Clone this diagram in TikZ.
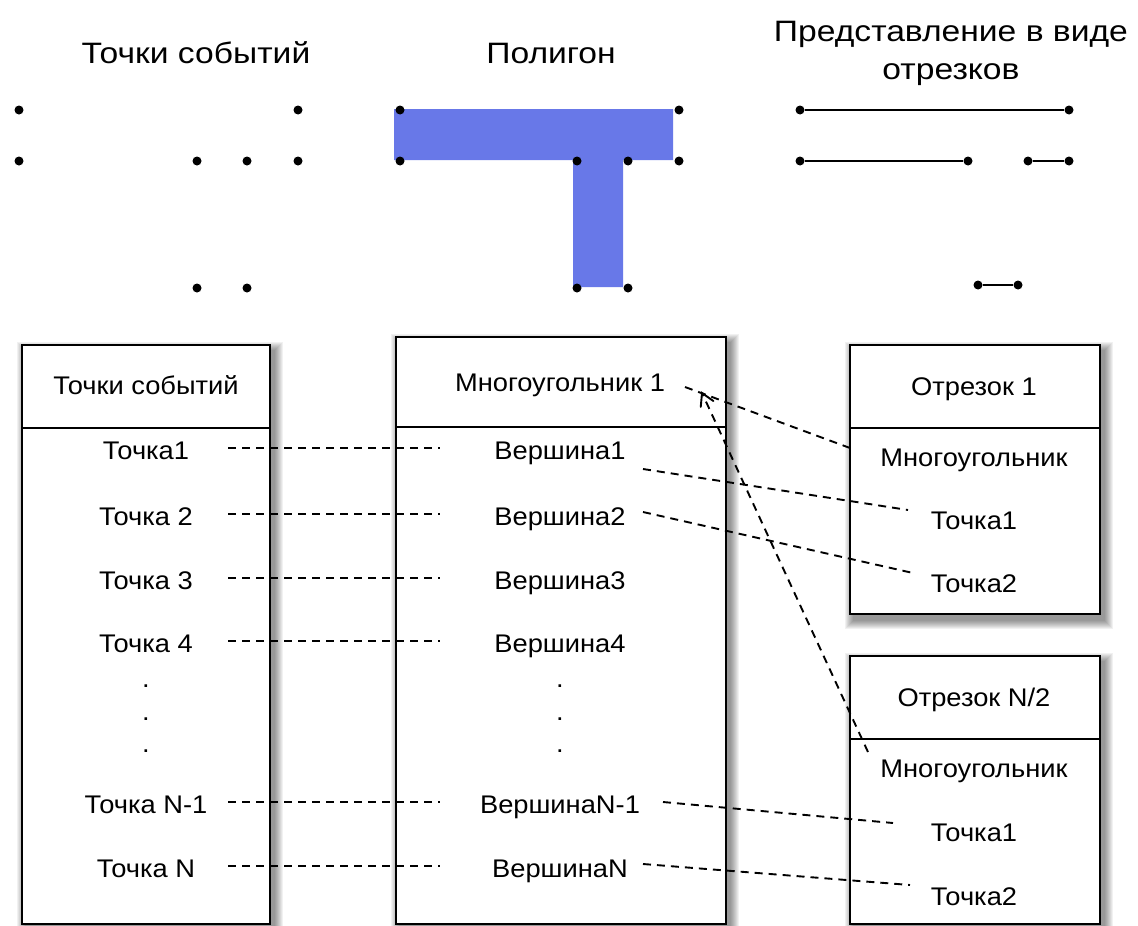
\documentclass[tikz,border=0pt]{standalone}
\usepackage{fontspec}
\setmainfont{Liberation Sans}
\newfontfamily\boxfont[FakeStretch=1.07]{Liberation Sans}
\newfontfamily\titlefont[FakeStretch=1.14]{Liberation Sans}
\usetikzlibrary{arrows.meta,calc}
\definecolor{polyblue}{RGB}{104,120,232}
\tikzset{
  box/.style={draw, line width=1.9pt, fill=white, inner sep=0pt},
  txt/.style={font=\boxfont\fontsize{25.5}{30}\selectfont, inner sep=0pt, anchor=base},
  ttl/.style={font=\titlefont\fontsize{29.5}{40}\selectfont, inner sep=0pt, align=center, anchor=base},
  conn/.style={dash pattern=on 8pt off 6pt, line width=1.9pt},
  barb/.style={line width=1.9pt, line cap=round, line join=miter},
  evpt/.style={circle, fill=black, inner sep=0pt, minimum size=9pt},
  seg/.style={line width=1.4pt},
  divider/.style={line width=1.9pt},
  shd/.style={fill=black, opacity=0.055},
}
\newcommand\myshadow[4]{%
  \foreach \i in {1,...,9}{%
    \fill[shd] ({#1-\i*1.0+4},{#2-\i*1.0+6}) rectangle ({#3+\i*1.0+4},{#4+\i*1.0+6});
  }}
\begin{document}
\begin{tikzpicture}[x=1pt,y=-1pt]
\useasboundingbox (0,0) rectangle (1138,926);

% ---------- titles ----------
\node[ttl] (t1) at (196,63) {Точки событий};
\node[ttl] (t2) at (551,63) {Полигон};
\node[ttl] (t3a) at (951,41) {Представление в виде};
\node[ttl] (t3b) at (951,79) {отрезков};

% ---------- event points ----------
\foreach \n/\x/\y in {a/19/110, b/298/110, c/19/161, d/197/161, e/247/161, f/298/161, g/197/288, h/247/288}
  \node[evpt] (e\n) at (\x,\y) {};

% ---------- polygon ----------
\fill[polyblue] (394,109) -- (673,109) -- (673,160) -- (623,160) -- (623,287)
   -- (573,287) -- (573,160) -- (394,160) -- cycle;
\foreach \n/\x/\y in {a/400/110, b/679/110, c/400/161, d/577/161, e/628/161, f/679/161, g/577/288, h/628/288}
  \node[evpt] (p\n) at (\x,\y) {};

% ---------- segments ----------
\foreach \n/\x/\y in {a/800/110, b/1069/110, c/800/161, d/968/161, e/1028/161, f/1069/161, g/978/285, h/1018/285}
  \node[evpt] (s\n) at (\x,\y) {};
\draw[seg] (sa) -- (sb);
\draw[seg] (sc) -- (sd);
\draw[seg] (se) -- (sf);
\draw[seg] (sg) -- (sh);

% ---------- shadows ----------
\myshadow{22}{345}{270}{924}
\myshadow{396}{337}{726}{924}
\myshadow{850}{345}{1100}{614}
\myshadow{850}{656}{1100}{924}

% ---------- boxes ----------
\node[box, minimum width=248pt, minimum height=579pt] (b1) at (146,634.5) {};
\node[box, minimum width=330pt, minimum height=587pt] (b2) at (561,630.5) {};
\node[box, minimum width=250pt, minimum height=269pt] (b3) at (975,479.5) {};
\node[box, minimum width=250pt, minimum height=268pt] (b4) at (975,790) {};
\draw[divider] (b1.west |- 0,428) -- (b1.east |- 0,428);
\draw[divider] (b2.west |- 0,427) -- (b2.east |- 0,427);
\draw[divider] (b3.west |- 0,428) -- (b3.east |- 0,428);
\draw[divider] (b4.west |- 0,739) -- (b4.east |- 0,739);

% ---------- box 1 text ----------
\node[txt] (h1) at (146,394) {Точки событий};
\node[txt] (l1) at (146,459) {Точка1};
\node[txt] (l2) at (146,525) {Точка 2};
\node[txt] (l3) at (146,589) {Точка 3};
\node[txt] (l4) at (146,652) {Точка 4};
\node[txt] (ld1) at (146,687) {.};
\node[txt] (ld2) at (146,720) {.};
\node[txt] (ld3) at (146,752) {.};
\node[txt] (l5) at (146,813) {Точка N-1};
\node[txt] (l6) at (146,877) {Точка N};

% ---------- box 2 text ----------
\node[txt] (h2) at (560,391) {Многоугольник 1};
\node[txt] (m1) at (560,459) {Вершина1};
\node[txt] (m2) at (560,525) {Вершина2};
\node[txt] (m3) at (560,589) {Вершина3};
\node[txt] (m4) at (560,652) {Вершина4};
\node[txt] (md1) at (560,687) {.};
\node[txt] (md2) at (560,720) {.};
\node[txt] (md3) at (560,752) {.};
\node[txt] (m5) at (560,813) {ВершинаN-1};
\node[txt] (m6) at (560,877) {ВершинаN};

% ---------- box 3 text ----------
\node[txt] (h3) at (974,395) {Отрезок 1};
\node[txt] (r1) at (974,466) {Многоугольник};
\node[txt] (r2) at (974,529) {Точка1};
\node[txt] (r3) at (974,592) {Точка2};

% ---------- box 4 text ----------
\node[txt] (h4) at (974,706) {Отрезок N/2};
\node[txt] (q1) at (974,777) {Многоугольник};
\node[txt] (q2) at (974,841) {Точка1};
\node[txt] (q3) at (974,905) {Точка2};

% ---------- connectors ----------
\foreach \k/\y in {1/448, 2/514, 3/578, 4/641, 5/802, 6/866}{
  \coordinate (la\k) at (228,\y);
  \coordinate (lb\k) at (440,\y);
  \draw[conn] (la\k) -- (lb\k);
}
\coordinate (ca1) at (685,387);  \coordinate (cb1) at (850,448);
\coordinate (aa)  at (868,752);  \coordinate (ab)  at (702,393);
\coordinate (ca2) at (643,469);  \coordinate (cb2) at (908,510);
\coordinate (ca3) at (643,512);  \coordinate (cb3) at (913,573);
\coordinate (ca4) at (663,802);  \coordinate (cb4) at (893,823);
\coordinate (ca5) at (643,864);  \coordinate (cb5) at (910,885);
\draw[conn] (ca1) -- (cb1);
\draw[conn] (aa) -- (ab);
\draw[barb] ($(ab)!14pt!30:(aa)$) -- (ab) -- ($(ab)!14pt!-30:(aa)$);
\draw[conn] (ca2) -- (cb2);
\draw[conn] (ca3) -- (cb3);
\draw[conn] (ca4) -- (cb4);
\draw[conn] (ca5) -- (cb5);
\end{tikzpicture}
\end{document}
